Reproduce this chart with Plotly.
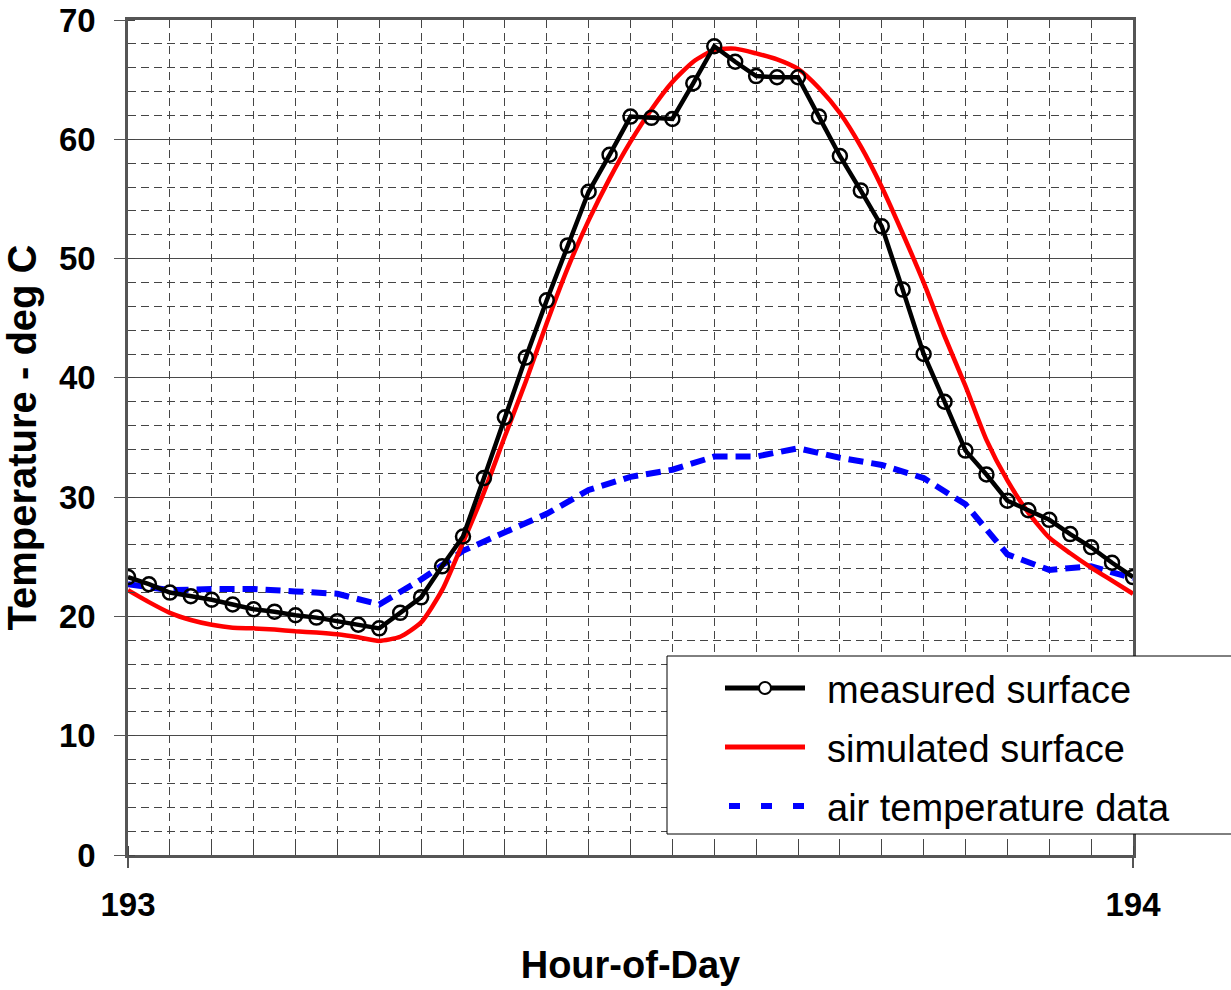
import plotly.graph_objects as go

# ---------------- data ----------------
half_hours = [0, 0.5, 1, 1.5, 2, 2.5, 3, 3.5, 4, 4.5, 5, 5.5, 6, 6.5, 7, 7.5, 8, 8.5,
              9, 9.5, 10, 10.5, 11, 11.5, 12, 12.5, 13, 13.5, 14, 14.5, 15, 15.5, 16,
              16.5, 17, 17.5, 18, 18.5, 19, 19.5, 20, 20.5, 21, 21.5, 22, 22.5, 23,
              23.5, 24]
hours = [0, 1, 2, 3, 4, 5, 6, 7, 8, 9, 10, 11, 12, 13, 14, 15, 16, 17, 18, 19, 20,
         21, 22, 23, 24]

measured_surface = [23.3, 22.7, 22.0, 21.7, 21.4, 21.0, 20.6, 20.4, 20.1, 19.9,
                    19.6, 19.3, 19.0, 20.3, 21.6, 24.2, 26.7, 31.6, 36.7, 41.7,
                    46.5, 51.1, 55.6, 58.7, 61.9, 61.8, 61.7, 64.7, 67.8, 66.5,
                    65.3, 65.2, 65.2, 61.9, 58.6, 55.7, 52.7, 47.4, 42.0, 38.0,
                    33.9, 31.9, 29.7, 28.9, 28.1, 26.9, 25.8, 24.5, 23.3]

simulated_surface = [22.2, 21.2, 20.3, 19.7, 19.3, 19.05, 19.0, 18.9, 18.75, 18.65,
                     18.5, 18.25, 17.95, 18.3, 19.5, 22.2, 26.2, 30.4, 35.1, 39.7,
                     44.6, 49.2, 53.2, 56.7, 59.8, 62.5, 64.8, 66.5, 67.5, 67.6,
                     67.2, 66.7, 65.9, 64.3, 62.2, 59.4, 56.0, 52.1, 48.0, 43.5,
                     39.3, 34.8, 31.4, 28.7, 26.6, 25.3, 24.1, 23.0, 21.9]

air_temperature = [22.7, 22.2, 22.3, 22.3, 22.1, 21.9, 21.0, 23.1, 25.5, 27.1,
                   28.6, 30.6, 31.7, 32.3, 33.4, 33.4, 34.1, 33.3, 32.7, 31.6,
                   29.4, 25.2, 23.9, 24.2, 23.2]

day_start = 193
x_ticks = [193, 194]
x_ticktext = ["193", "194"]
legend_labels = ["measured surface", "simulated surface", "air temperature data"]

x_half = [day_start + h / 24 for h in half_hours]
x_hour = [day_start + h / 24 for h in hours]

# ---------------- figure ----------------
W, H = 1231, 990
L, R, T, B = 128, 98, 20, 135
PW, PH = W - L - R, H - T - B

def xp(px):
    return (px - L) / PW

def yp(py):
    return (H - B - py) / PH

FONT = "Arial, Liberation Sans, sans-serif"
GRID = "#454545"
DASH = "8px,5px"

fig = go.Figure()
fig.add_trace(go.Scatter(x=x_hour, y=air_temperature, mode="lines",
                         name=legend_labels[2],
                         line=dict(color="#0000FF", width=6, dash="15px,8px")))
fig.add_trace(go.Scatter(x=x_half, y=simulated_surface, mode="lines",
                         name=legend_labels[1],
                         line=dict(color="#FF0000", width=4.5, shape="spline", smoothing=0.6)))
fig.add_trace(go.Scatter(x=x_half, y=measured_surface, mode="lines+markers",
                         name=legend_labels[0],
                         line=dict(color="#000000", width=4.5),
                         marker=dict(symbol="circle-open", size=14, color="#000000",
                                     line=dict(width=2.5, color="#000000"))))

fig.update_layout(
    width=W, height=H,
    margin=dict(l=L, r=R, t=T, b=B, autoexpand=False),
    paper_bgcolor="white", plot_bgcolor="white",
    showlegend=False,
    font=dict(family=FONT, color="black"),
)

fig.update_xaxes(
    range=[193, 194],
    tickvals=x_ticks, ticktext=x_ticktext,
    tickfont=dict(size=33, weight="bold", family=FONT),
    ticks="outside", ticklen=10, tickwidth=2, tickcolor="#555",
    ticklabelstandoff=9,
    showgrid=False, zeroline=False,
    showline=True, linecolor="#555", linewidth=2.5, mirror=True,
    minor=dict(dtick=1 / 24, tick0=193, showgrid=True, gridcolor=GRID,
               gridwidth=1, griddash=DASH, ticks="inside", ticklen=9,
               tickcolor="#444", tickwidth=1),
    title=dict(text="Hour-of-Day", font=dict(size=38, weight="bold", family=FONT),
               standoff=30),
)

fig.update_yaxes(
    range=[0, 70], dtick=10, tick0=0,
    tickfont=dict(size=33, weight="bold", family=FONT),
    ticks="outside", ticklen=11, tickwidth=1, tickcolor="#555",
    ticklabelstandoff=12,
    showgrid=True, gridcolor="#4a4a4a", gridwidth=1,
    zeroline=False,
    showline=True, linecolor="#555", linewidth=2.5, mirror=True,
    minor=dict(dtick=2, showgrid=True, gridcolor=GRID, gridwidth=1,
               griddash=DASH, ticks="inside", ticklen=7, tickcolor="#444",
               tickwidth=1),
    title=dict(text="Temperature - deg C", font=dict(size=40, weight="bold", family=FONT),
               standoff=12),
)

# ---------------- legend box (drawn to match the original framed legend) ----------------
shapes = [
    dict(type="rect", xref="paper", yref="paper", x0=xp(667), x1=xp(1260),
         y0=yp(834), y1=yp(656), fillcolor="white",
         line=dict(color="black", width=1), layer="above"),
]
rows = [688, 747, 806]
shapes.append(dict(type="line", xref="paper", yref="paper", x0=xp(725), x1=xp(805),
                   y0=yp(rows[0]), y1=yp(rows[0]), line=dict(color="black", width=5),
                   layer="above"))
shapes.append(dict(type="circle", xref="paper", yref="paper", xsizemode="pixel",
                   ysizemode="pixel", xanchor=xp(765), yanchor=yp(rows[0]),
                   x0=-6, x1=6, y0=-6, y1=6, fillcolor="white",
                   line=dict(color="black", width=2), layer="above"))
shapes.append(dict(type="line", xref="paper", yref="paper", x0=xp(725), x1=xp(805),
                   y0=yp(rows[1]), y1=yp(rows[1]), line=dict(color="#FF0000", width=5),
                   layer="above"))
shapes.append(dict(type="line", xref="paper", yref="paper", x0=xp(729), x1=xp(806),
                   y0=yp(rows[2]), y1=yp(rows[2]),
                   line=dict(color="#0000FF", width=6, dash="11px,21px"),
                   layer="above"))
fig.update_layout(shapes=shapes)

for lab, r in zip(legend_labels, rows):
    fig.add_annotation(xref="paper", yref="paper", x=xp(825), y=yp(r + 2),
                       text=lab, showarrow=False, xanchor="left", yanchor="middle",
                       font=dict(size=38, family=FONT, color="black"))

fig.write_html("out.html")
